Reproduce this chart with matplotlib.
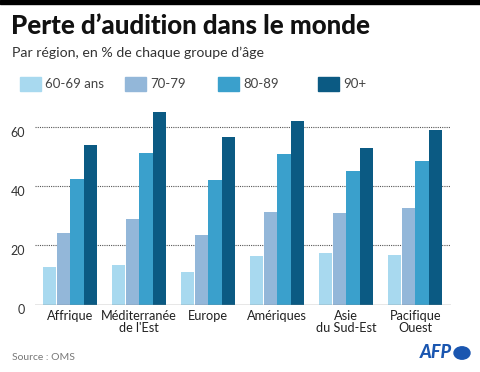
import matplotlib
matplotlib.use("Agg")
import matplotlib.pyplot as plt
import numpy as np
from matplotlib.patches import Rectangle, Circle

regions = ["Affrique", "Méditerranée\nde l'Est", "Europe", "Amériques", "Asie\ndu Sud-Est", "Pacifique\nOuest"]
age_groups = ["60-69 ans", "70-79", "80-89", "90+"]
v60 = [12.8, 13.3, 10.9, 16.3, 17.5, 16.8]
v70 = [24.3, 28.9, 23.4, 31.3, 30.8, 32.6]
v80 = [42.4, 51.2, 42.0, 50.7, 45.2, 48.4]
v90 = [53.9, 64.9, 56.5, 61.9, 52.8, 58.9]
yticks = [0, 20, 40, 60]
colors = ["#a8d9ef", "#93b7d9", "#3aa0cc", "#0b5a83"]

FONT = "Lato"
plt.rcParams['font.family'] = [FONT, 'DejaVu Sans']

W, H = 480, 372
fig = plt.figure(figsize=(W/100, H/100), dpi=100)

def fx(px): return px / W
def fy(py): return 1 - py / H

# top black bar
fig.patches.append(Rectangle((0, fy(4)), 1, 4/H, transform=fig.transFigure, color="black"))

fig.text(fx(11), fy(26), "Perte d\u2019audition dans le monde", fontsize=18.6, fontweight="black",
         va="center", ha="left", color="#111111")
fig.text(fx(12), fy(53), "Par région, en % de chaque groupe d\u2019âge", fontsize=10.2,
         va="center", ha="left", color="#333333")

# legend
leg_x = [20, 125, 218, 318]
for x, lab, c in zip(leg_x, age_groups, colors):
    fig.patches.append(Rectangle((fx(x), fy(91)), 21/W, 14/H, transform=fig.transFigure, color=c))
    fig.text(fx(x + 25), fy(84), lab, fontsize=9.5, va="center", ha="left", color="#444444")

# axes
ax_left, ax_right = 35, 451
ax_bottom, ax_top = 304.5, 112.1
ax = fig.add_axes([fx(ax_left), fy(ax_bottom), (ax_right - ax_left)/W, (ax_bottom - ax_top)/H])
x = np.arange(len(regions))
bw = 0.19
for i, (vals, c) in enumerate(zip([v60, v70, v80, v90], colors)):
    ax.bar(x + (i - 1.5) * 0.198, vals, width=bw, color=c, zorder=3)
ax.set_xlim(-0.51, 5.52)
ax.set_ylim(0, 65)
for s in ax.spines.values():
    s.set_visible(False)
ax.axhline(0, color="#888888", lw=1, zorder=4)
for t in yticks[1:]:
    ax.axhline(t, color="#555555", lw=0.8, ls=(0, (1, 1)), zorder=1)
ax.set_yticks(yticks)
ax.set_yticklabels([str(t) for t in yticks], fontsize=9, color="#333333")
ax.tick_params(axis="y", length=0, pad=7)
for lab in ax.get_yticklabels():
    lab.set_va("top")
ax.set_xticks(x)
ax.set_xticklabels(regions, fontsize=9.2, color="#222222", linespacing=1.0)
ax.tick_params(axis="x", length=0, pad=4)
ax.patch.set_alpha(0)

fig.text(fx(12), fy(357), "Source : OMS", fontsize=7.5, va="center", ha="left", color="#777777")
fig.text(fx(452), fy(353), "AFP", fontsize=13, fontweight="black", style="italic",
         va="center", ha="right", color="#1a56b0")
fig.patches.append(Circle((fx(462), fy(353)), 8/W, transform=fig.transFigure, color="#1a56b0"))

fig.savefig("out.png", dpi=100)
